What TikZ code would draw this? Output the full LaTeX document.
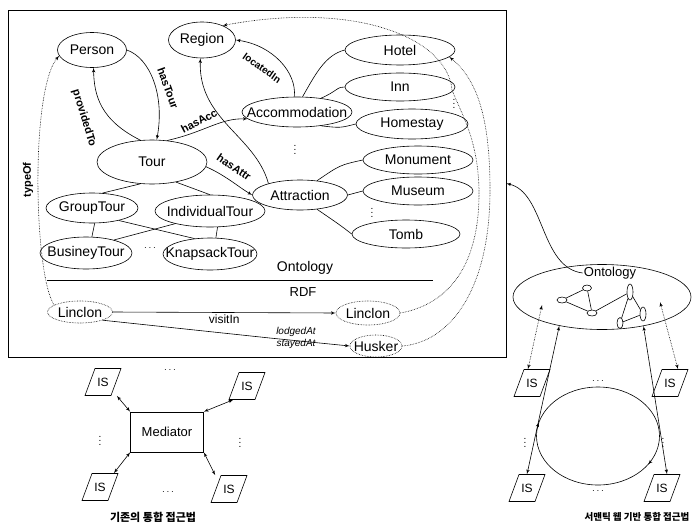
\documentclass[tikz,border=0pt]{standalone}
\usepackage{fontspec}
\setmainfont{Liberation Sans}
\newfontfamily\kor{Noto Sans CJK KR}
\usepackage{tikz}
\usetikzlibrary{arrows}
\usetikzlibrary{calc}
\usetikzlibrary{shapes.geometric}
\usetikzlibrary{decorations.markings}

\newcommand{\nm}[1]{\makebox[0pt]{#1}}

\begin{document}
\begin{tikzpicture}[x=1pt,y=-1pt,semithick,inner sep=1pt,>=latex',
  cls/.style 2 args={draw,ellipse,minimum width=#1,minimum height=#2,font=\fontsize{14}{14}\selectfont},
  inst/.style 2 args={draw,densely dotted,ellipse,minimum width=#1,minimum height=#2,font=\fontsize{14}{14}\selectfont},
  rel/.style={font=\bfseries\fontsize{11}{11}\selectfont},
  lnk/.style={densely dotted},
  is/.style={minimum width=28,minimum height=27,inner sep=0,font=\fontsize{12}{12}\selectfont},
  sn/.style 2 args={draw,ellipse,inner sep=0,minimum width=#1,minimum height=#2}]
\useasboundingbox (0,0) rectangle (693,530);

% frame
\node[draw,minimum width=498,minimum height=347,inner sep=0] (box) at (257,183.5) {};

% ontology classes
\node[cls={69}{35}]  (Per)  at (92,50)   {\nm{Person}};
\node[cls={67}{36}]  (Reg)  at (202,40)  {\nm{Region}};
\node[cls={110}{44}] (Tour) at (152,162) {\nm{Tour}};
\node[cls={110}{30}] (Acc)  at (297,112) {\nm{Accommodation}};
\node[cls={95}{30}]  (Attr) at (300,195) {\nm{Attraction}};
\node[cls={110}{30}] (Hot)  at (400,50)  {\nm{Hotel}};
\node[cls={110}{28}] (Inn)  at (400,87)  {\nm{Inn}};
\node[cls={112}{30}] (Home) at (412,124) {\nm{Homestay}};
\node[cls={110}{28}] (Mon)  at (418,160) {\nm{Monument}};
\node[cls={110}{28}] (Mus)  at (418,191) {\nm{Museum}};
\node[cls={108}{28}] (Tomb) at (406,234) {\nm{Tomb}};
\node[cls={92}{30}]  (GT)   at (92,208)  {\nm{GroupTour}};
\node[cls={110}{32}] (IT)   at (210,211) {\nm{IndividualTour}};
\node[cls={92}{32}]  (BT)   at (86,253)  {\nm{BusineyTour}};
\node[cls={94}{32}]  (KT)   at (210,254) {\nm{KnapsackTour}};

\node (dT) at (150,248) {$\cdots$};
\node (dA) at (295,147) {$\vdots$};
\node (dH) at (454,101) {$\vdots$};
\node (dM) at (372,210) {$\vdots$};

% properties
\draw [->] (Per.east) .. controls (150,58) and (165,95) .. (Tour.78);
\node[rel,rotate=-70] (lT) at (168,88) {hasTour};
\draw [->] (Tour.118) .. controls (100,120) and (94,95) .. (Per.-85);
\node[rel,rotate=-73] (lP) at (84,118) {providedTo};
\draw [->] (Tour.55) .. controls (205,132) and (220,118) .. (Acc.188);
\node[rel,rotate=28] (lA) at (199,121) {hasAcc};
\draw [->] (Acc.100) .. controls (297,72) and (272,45) .. (Reg.east);
\node[rel,rotate=-35,font=\bfseries\fontsize{10}{10}\selectfont] (lL) at (262,68) {locatedIn};
\draw [->] (Attr.160) .. controls (255,135) and (198,120) .. (Reg.-95);
\draw [->] (Tour.-5) .. controls (225,175) and (240,188) .. (Attr.west);
\node[rel,rotate=-35] (lR) at (234,167) {hasAttr};

% subclasses
\draw (Acc.70) .. controls (315,75) and (325,55) .. (Hot.west);
\draw (Acc.30) .. controls (336,92) and (338,86) .. (Inn.west);
\draw (Acc.-30) .. controls (340,128) .. (Home.west);
\draw (Attr.40) .. controls (340,165) .. (Mon.west);
\draw (Attr.east) -- (Mus.west);
\draw (Attr.-40) .. controls (340,225) .. (Tomb.west);
\draw (Tour.-118) -- (GT.55);
\draw (Tour.-40) -- (IT.north);
\draw (GT.-80) -- (BT.70);
\draw (GT.-25) -- (KT.135);
\draw (IT.-160) -- (BT.25);
\draw (IT.-65) -- (KT.70);

% ontology / rdf
\node[font=\fontsize{14}{14}\selectfont] (oL) at (305,268) {Ontology};
\coordinate (s1) at (47,280);
\coordinate (s2) at (433,280);
\draw (s1) -- (s2);
\node[font=\fontsize{13}{13}\selectfont] (rL) at (303,292) {RDF};

\node[inst={65}{22}] (L1)  at (80,312)  {\nm{Linclon}};
\node[inst={64}{24}] (L2)  at (368,313) {\nm{Linclon}};
\node[inst={52}{22}] (Hus) at (376,346) {\nm{Husker}};

\draw [->] (L1.east) -- (L2.west) node[midway,below=1pt,font=\fontsize{12}{12}\selectfont] {visitIn};
\draw [->] (L1.-20) -- ($(Hus.west)+(-80,-8)$) -- (Hus.west);
\node[font=\itshape\fontsize{10}{10}\selectfont] (lg) at (296,332) {lodgedAt};
\node[font=\itshape\fontsize{10}{10}\selectfont] (st) at (296,344) {stayedAt};

% instance links
\draw [lnk,->] (L1.165) .. controls (34,275) and (30,90) .. (Per.190);
\node[rel,rotate=90] (lY) at (28,180) {typeOf};
\draw [lnk,->] (L2.east) .. controls (445,305) and (480,270) .. (479,190)
   .. controls (478,140) and (462,115) .. (452,90)
   .. controls (448,40) and (360,0) .. (Reg.35);
\draw [lnk,->] (Hus.east) .. controls (450,342) and (490,290) .. (490,190)
   .. controls (490,120) and (478,80) .. (Hot.-8);

% semantic web integration
\node[draw,ellipse,minimum width=178,minimum height=65] (Ont) at (602,297) {};
\node[font=\fontsize{13}{13}\selectfont] (ontl) at (610,273) {Ontology};
\draw [->] (ontl.west) .. controls (540,268) and (545,192) .. (box.east);

\node[sn={10}{6}]  (a) at (562,300) {};
\node[sn={9}{6}]   (b) at (587,288) {};
\node[sn={10}{6}]  (c) at (592,313) {};
\node[sn={6}{16}]  (d) at (630,292) {};
\node[sn={6}{11}]  (e) at (620,323) {};
\node[sn={6}{14}]  (f) at (643,314) {};
\draw (a) -- (b) -- (c) -- (a);
\draw (c) -- (d) -- (e) -- (f) -- (d);

\node[is] (IS1) at (532,383) {IS};
\node[is] (IS2) at (670,383) {IS};
\node[is] (IS3) at (527,488) {IS};
\node[is] (IS4) at (662,488) {IS};

\draw [postaction={decorate},decoration={markings,mark=at position 0.09 with {\arrow{>}},mark=at position 0.54 with {\arrow{>}}}]
  (598,436) ellipse [x radius=61.5,y radius=49];

\draw [lnk,<->] ($(Ont.center)+(-60,8)$) -- ($(IS1.north)+(-4,0)$);
\draw [lnk,<->] ($(Ont.center)+(58,5)$) -- ($(IS2.north)+(8,0)$);
\draw [<->] (Ont.-146) -- (IS3.north);
\draw [<->] (Ont.-35) -- ($(IS4.north)+(5,0)$);

\node (r1) at (598,381) {$\cdots$};
\node (r2) at (598,491) {$\cdots$};
\node (r3) at (525,440) {$\vdots$};
\node (r4) at (663,440) {$\vdots$};

\node[font=\kor\bfseries\fontsize{9.5}{10}\selectfont] (cap2) at (637,517) {서맨틱 웹 기반 통합 접근법};

% mediator integration
\node[draw,minimum width=73,minimum height=40,font=\fontsize{13}{13}\selectfont] (Med) at (167,432) {Mediator};
\node[is] (M1) at (103,382) {IS};
\node[is] (M2) at (247,386) {IS};
\node[is] (M3) at (100,487) {IS};
\node[is] (M4) at (229,489) {IS};
\draw [<->] (Med.north west) -- (M1.-45);
\draw [<->] (Med.north east) -- (M2.-135);
\draw [<->] (Med.south west) -- (M3.45);
\draw [<->] (Med.south east) -- (M4.135);

% IS sheets
\foreach \n in {IS1,IS2,IS3,IS4,M1,M2,M3,M4}
  \draw ($(\n)+(-18,13.5)$) -- ($(\n)+(8,13.5)$) -- ($(\n)+(18,-13.5)$) -- ($(\n)+(-8,-13.5)$) -- cycle;

\node (m1) at (170,370) {$\cdots$};
\node (m2) at (168,492) {$\cdots$};
\node (m3) at (100,438) {$\vdots$};
\node (m4) at (240,440) {$\vdots$};

\node[font=\kor\bfseries\fontsize{11}{11}\selectfont] (cap1) at (153,517) {기존의 통합 접근법};
\end{tikzpicture}
\end{document}
